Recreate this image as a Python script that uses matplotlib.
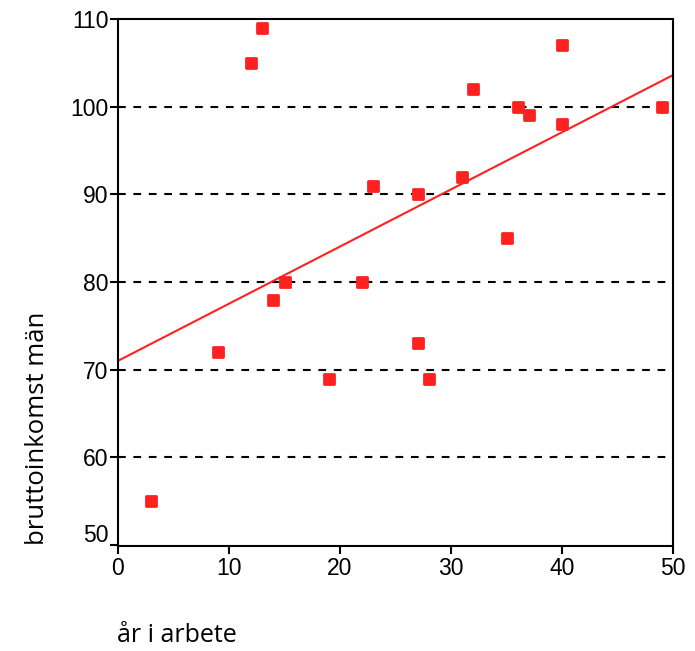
import matplotlib
matplotlib.use('Agg')
import matplotlib.pyplot as plt
import matplotlib.transforms as mtransforms
from matplotlib.markers import MarkerStyle
import numpy as np

plt.rcParams['font.family'] = 'Liberation Sans'

# years in work vs gross income (men)
ar = [3, 9, 12, 13, 14, 15, 19, 22, 23, 27, 27, 28, 31, 32, 35, 36, 37, 40, 40, 49]
inkomst = [55, 72, 105, 109, 78, 80, 69, 80, 91, 90, 73, 69, 92, 102, 85, 100, 99, 107, 98, 100]
xticks = [0, 10, 20, 30, 40, 50]
yticks = [50, 60, 70, 80, 90, 100, 110]
grid_y = [60, 70, 80, 90, 100]

red = '#ff2020'

fig = plt.figure(figsize=(6.95, 6.51), dpi=100)
ax = fig.add_axes([118 / 695, 105 / 651, 555 / 695, 527 / 651])

for g in grid_y:
    ax.axhline(g, color='k', lw=1.5, linestyle=(0, (3.7, 3.7)), zorder=1)

fit = np.polyfit(ar, inkomst, 1)
xl = np.array([0, 50])
ax.plot(xl, np.polyval(fit, xl), color=red, lw=1.5, zorder=2)

ax.plot(ar, inkomst, linestyle='none', marker=MarkerStyle('s', joinstyle='round'),
        markersize=7, markerfacecolor=red, markeredgecolor=red,
        markeredgewidth=2, zorder=3)

ax.set_xlim(0, 50)
ax.set_ylim(49.9, 110)
ax.set_xticks(xticks)
ax.set_yticks(yticks)
ax.tick_params(direction='out', length=6, width=1.5, labelsize=16.5)
ax.tick_params(axis='y', pad=1)
ax.tick_params(axis='x', pad=2)
for s in ax.spines.values():
    s.set_linewidth(1.5)

# the "50" label sits a bit above its tick
fig.canvas.draw()
lab50 = ax.get_yticklabels()[0]
lab50.set_transform(lab50.get_transform() + mtransforms.ScaledTranslation(0, 12 / 100, fig.dpi_scale_trans))

fig.text(38 / 695, 1 - 428 / 651, 'bruttoinkomst män', rotation=90,
         ha='center', va='center', fontsize=18.5, family='Open Sans')
fig.text(117 / 695, 1 - 636 / 651, 'år i arbete', ha='left', va='center',
         fontsize=18, family='Open Sans')

fig.savefig('out.png', dpi=100)
